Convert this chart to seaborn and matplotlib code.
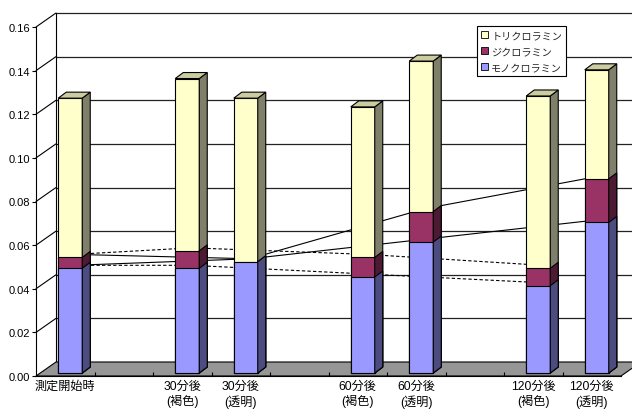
import matplotlib
matplotlib.use("Agg")
import matplotlib.pyplot as plt
import seaborn as sns
import pandas as pd
from matplotlib.patches import Polygon, Patch
from matplotlib.transforms import ScaledTranslation

# Category slots (blank slots separate the time groups)
tick_labels = ["測定開始時", "", "30分後\n(褐色)", "30分後\n(透明)", "",
               "60分後\n(褐色)", "60分後\n(透明)", "", "120分後\n(褐色)", "120分後\n(透明)"]
positions = [0, 2, 3, 5, 6, 8, 9]

# Concentrations for each bar
mono = [0.048, 0.048, 0.051, 0.044, 0.060, 0.040, 0.069]
di = [0.005, 0.008, 0.000, 0.009, 0.014, 0.008, 0.020]
tri = [0.073, 0.079, 0.075, 0.069, 0.069, 0.079, 0.050]
series_names = ["トリクロラミン", "ジクロラミン", "モノクロラミン"]

# Bars joined by the trend lines
brown_path = [0, 1, 3, 5]
clear_path = [0, 2, 4, 6]

y_ticks = [0.00, 0.02, 0.04, 0.06, 0.08, 0.10, 0.12, 0.14, 0.16]

sns.set_style("white")
plt.rcParams["font.family"] = ["Liberation Sans", "Noto Sans CJK JP"]

W, H = 632, 410
fig = plt.figure(figsize=(W / 100, H / 100), dpi=100)
ax = fig.add_axes([36 / W, 1 - 377 / H, 585 / W, 349 / H])
ax.set_xlim(-0.5, 9.5)
ax.set_ylim(0, 0.16)

WALL = (20, 14)      # depth of the back wall, in pixels
BAR_OFF = (5, 3)     # front face of the columns
BAR_DEPTH = (8, 6)   # thickness of the columns


def P(x, y, dx=0.0, dy=0.0):
    px, py = ax.transData.transform((x, y))
    return ax.transData.inverted().transform((px + dx, py + dy))


# back wall gridlines and left wall
for v in y_ticks[1:]:
    a = P(-0.5, v, *WALL)
    b = P(10.5, v, *WALL)
    ax.plot([a[0], b[0]], [a[1], b[1]], color="#222222", lw=0.9, clip_on=False, zorder=0.8)
    c = P(-0.5, v)
    ax.plot([c[0], a[0]], [c[1], a[1]], color="black", lw=0.8, clip_on=False, zorder=0.8)
a = P(-0.5, 0, *WALL)
b = P(-0.5, 0.16, *WALL)
ax.plot([a[0], b[0]], [a[1], b[1]], color="black", lw=0.8, clip_on=False, zorder=0.8)

# floor
floor = Polygon([P(-0.5, 0), P(9.5, 0), P(9.5, 0, *WALL), P(-0.5, 0, *WALL)],
                closed=True, facecolor="#969696", edgecolor="black", lw=0.8,
                clip_on=False, zorder=1)
ax.add_patch(floor)

df = pd.DataFrame({"pos": positions, "mono": mono, "di": di, "tri": tri})
df["di_top"] = df["mono"] + df["di"]
df["total"] = df["di_top"] + df["tri"]

layers = [
    ("total", "#FFFFCC", "#80806A", "#CCCCA0"),
    ("di_top", "#993366", "#4D1A33", None),
    ("mono", "#9999FF", "#4C4C80", None),
]
shift = ax.transData + ScaledTranslation(BAR_OFF[0] / 100, BAR_OFF[1] / 100, fig.dpi_scale_trans)
bx, by = BAR_OFF[0] + BAR_DEPTH[0], BAR_OFF[1] + BAR_DEPTH[1]
z = 3.0
for col, face, side, top in layers:
    n0 = len(ax.patches)
    sns.barplot(data=df, x="pos", y=col, native_scale=True, width=0.41, color=face,
                saturation=1, edgecolor="black", linewidth=0.8, errorbar=None, ax=ax)
    for p in ax.patches[n0:]:
        p.set_transform(shift)
        p.set_zorder(z)
        p.set_clip_on(False)
        xl = p.get_x()
        xr = xl + p.get_width()
        y0 = p.get_y()
        y1 = y0 + p.get_height()
        s = Polygon([P(xr, y0, *BAR_OFF), P(xr, y1, *BAR_OFF), P(xr, y1, bx, by), P(xr, y0, bx, by)],
                    closed=True, facecolor=side, edgecolor="black", lw=0.8, clip_on=False, zorder=z)
        ax.add_patch(s)
        if top is not None:
            t = Polygon([P(xl, y1, *BAR_OFF), P(xr, y1, *BAR_OFF), P(xr, y1, bx, by), P(xl, y1, bx, by)],
                        closed=True, facecolor=top, edgecolor="black", lw=0.8, clip_on=False, zorder=z)
            ax.add_patch(t)
    z += 0.01

# trend lines through the middle of the columns
mx, my = BAR_OFF[0] + BAR_DEPTH[0] / 2, BAR_OFF[1] + BAR_DEPTH[1] / 2
for path, ls in [(brown_path, (0, (3, 2))), (clear_path, "-")]:
    for col in ["mono", "di_top"]:
        pts = [P(df["pos"][i], df[col][i], mx, my) for i in path]
        ax.plot([q[0] for q in pts], [q[1] for q in pts], color="black", lw=0.8,
                linestyle=ls, clip_on=False, zorder=2.5)

# axes styling
ax.set_xlim(-0.5, 9.5)
ax.set_ylim(0, 0.16)
ax.patch.set_visible(False)
ax.set_axisbelow(False)
for sp in ["top", "right"]:
    ax.spines[sp].set_visible(False)
for sp in ["left", "bottom"]:
    ax.spines[sp].set_color("black")
    ax.spines[sp].set_linewidth(0.8)
    ax.spines[sp].set_zorder(2)

ax.set_yticks(y_ticks)
ax.set_yticklabels([f"{v:.2f}" for v in y_ticks], fontsize=8)
ax.tick_params(axis="y", left=True, direction="out", length=3, width=0.8, pad=1, colors="black")
ax.set_xticks(range(10))
ax.set_xticklabels(tick_labels, fontsize=8.7, linespacing=1.2)
ax.set_xticks([i + 0.5 for i in range(9)], minor=True)
ax.tick_params(axis="x", which="major", bottom=True, length=0, pad=3, colors="black")
ax.tick_params(axis="x", which="minor", bottom=True, direction="in", length=3, width=0.8, colors="black")
ax.set_xlabel("")
ax.set_ylabel("")

handles = [Patch(facecolor=c, edgecolor="black", lw=0.6, label=n)
           for c, n in zip(["#FFFFCC", "#993366", "#9999FF"], series_names)]
leg = fig.legend(handles=handles, loc="upper left", bbox_to_anchor=(477 / W, 1 - 27 / H),
                 fontsize=7.3, frameon=True, fancybox=False, edgecolor="black", framealpha=1,
                 borderpad=0.4, labelspacing=0.6, handlelength=0.7, handleheight=0.7,
                 handletextpad=0.3, borderaxespad=0)
leg.get_frame().set_linewidth(0.8)
leg.set_zorder(10)

fig.savefig("out.png", dpi=100)
